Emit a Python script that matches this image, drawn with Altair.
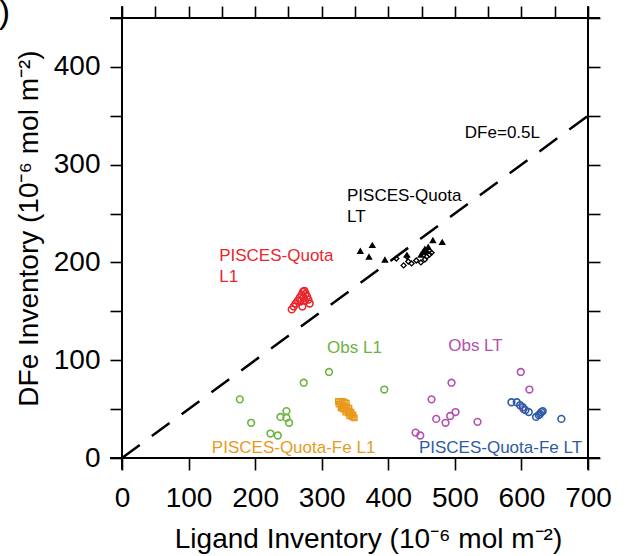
import altair as alt
import pandas as pd

FONT = "Liberation Sans"

x_ticks = list(range(0, 701, 50))
y_ticks = list(range(0, 451, 50))

# PISCES-Quota L1 (red circles)
quota_l1_lig = [255, 258, 261, 264, 267, 270, 272, 274, 276, 278, 280, 282, 271, 268, 275, 273]
quota_l1_dfe = [152, 155, 158, 161, 164, 167, 170, 171, 168, 165, 162, 158, 155, 160, 161, 164]

# Obs L1 (green circles)
obs_l1_lig = [311, 273, 394, 177, 247, 238, 247, 251, 194, 223, 234, 332]
obs_l1_dfe = [88, 77, 70, 60, 48, 42, 41, 36, 36, 25, 23, 51]

# PISCES-Quota-Fe L1 (orange squares)
fe_l1_lig = [325, 328, 331, 334, 337, 326, 330, 334, 338, 341, 329, 333, 337, 341, 344, 336, 340, 344, 347, 342, 346, 349]
fe_l1_dfe = [58, 58, 58, 57, 56, 55, 54, 53, 52, 51, 51, 50, 49, 48, 47, 47, 46, 45, 44, 43, 42, 41]

# Obs LT (purple circles)
obs_lt_lig = [599, 495, 612, 465, 501, 493, 472, 486, 534, 441, 448, 603]
obs_lt_dfe = [88, 77, 70, 60, 47, 43, 40, 36, 37, 26, 23, 50]

# PISCES-Quota-Fe LT (blue circles)
fe_lt_lig = [585, 593, 598, 602, 606, 611, 622, 626, 628, 630, 632, 660]
fe_lt_dfe = [57, 57, 54, 52, 49, 47, 42, 44, 45, 47, 48, 40]

# PISCES-Quota LT (black triangles and diamonds)
quota_lt_tri_lig = [358, 371, 376, 395, 428, 449, 452, 455, 458, 460, 467, 481]
quota_lt_tri_dfe = [212, 206, 218, 203, 208, 208, 211, 214, 212, 216, 223, 221]
quota_lt_dia_lig = [412, 423, 428, 430, 435, 442, 449, 455, 458, 462, 465]
quota_lt_dia_dfe = [204, 197, 206, 201, 199, 202, 200, 203, 206, 208, 210]

# DFe = 0.5 L reference line
ref_lig = [0, 700]
ref_dfe = [0, 350]

# annotations
label_text = ["PISCES-Quota\nLT", "PISCES-Quota\nL1", "Obs L1", "Obs LT",
              "PISCES-Quota-Fe L1", "PISCES-Quota-Fe LT", "DFe=0.5L"]
label_lig = [338, 146, 308, 490, 135, 446, 515]
label_dfe = [263, 201, 107, 109, 5, 5, 327]
label_color = ["#000000", "#e8262b", "#6cb33f", "#b44fae", "#e99a1d", "#2e5ba6", "#000000"]

xs = alt.Scale(domain=[0, 700], nice=False, zero=False)
ys = alt.Scale(domain=[0, 450], nice=False, zero=False)

lab_expr = "datum.value % 100 == 0 ? datum.label : ''"

x_axis = alt.Axis(
    title="Ligand Inventory (10⁻⁶ mol m⁻²)", values=x_ticks, labelExpr=lab_expr,
    tickSize=12, tickWidth=1.6, tickColor="black", domain=False, grid=False,
    labelFont=FONT, labelFontSize=28, labelColor="black", labelPadding=14,
    labelFlush=False, labelOverlap=False,
    titleFont=FONT, titleFontSize=28, titleFontWeight="normal", titleColor="black",
    titleX=246, titleY=89, titleBaseline="alphabetic", titleAlign="center",
)
y_axis = alt.Axis(
    title="DFe Inventory (10⁻⁶ mol m⁻²)", values=y_ticks, labelExpr=lab_expr,
    tickSize=12, tickWidth=1.6, tickColor="black", domain=False, grid=False,
    labelFont=FONT, labelFontSize=28, labelColor="black", labelPadding=10,
    labelFlush=False, labelOverlap=False,
    titleFont=FONT, titleFontSize=28, titleFontWeight="normal", titleColor="black",
    titleX=-85, titleY=210, titleBaseline="alphabetic", titleAlign="center",
)
top_axis = alt.Axis(orient="top", values=x_ticks, labels=False, tickSize=12, tickWidth=1.6,
                    tickColor="black", domain=False, grid=False, title="")
right_axis = alt.Axis(orient="right", values=y_ticks, labels=False, tickSize=12, tickWidth=1.6,
                      tickColor="black", domain=False, grid=False, title="")


def df(lig, dfe):
    return pd.DataFrame({"lig": lig, "dfe": dfe})


def pts(lig, dfe, **mark):
    return alt.Chart(df(lig, dfe)).mark_point(**mark).encode(
        x=alt.X("lig:Q", scale=xs), y=alt.Y("dfe:Q", scale=ys)
    )


ref = alt.Chart(df(ref_lig, ref_dfe)).mark_line(
    color="black", strokeWidth=2.5, strokeDash=[22, 15]
).encode(
    x=alt.X("lig:Q", scale=xs, axis=x_axis),
    y=alt.Y("dfe:Q", scale=ys, axis=y_axis),
)

circle = dict(shape="circle", filled=False, size=45, strokeWidth=1.6, opacity=1)
layers = [
    ref,
    pts(quota_l1_lig, quota_l1_dfe, color="#e8262b", **circle),
    pts(obs_l1_lig, obs_l1_dfe, color="#6cb33f", **circle),
    pts(fe_l1_lig, fe_l1_dfe, shape="square", filled=False, size=28, strokeWidth=1.5,
        color="#e99a1d", opacity=1),
    pts(obs_lt_lig, obs_lt_dfe, color="#b44fae", **circle),
    pts(fe_lt_lig, fe_lt_dfe, color="#2e5ba6", **circle),
    pts(quota_lt_tri_lig, quota_lt_tri_dfe, shape="triangle-up", filled=True, size=55,
        color="black", opacity=1),
    pts(quota_lt_dia_lig, quota_lt_dia_dfe, shape="diamond", filled=False, size=25,
        strokeWidth=1.3, color="black", opacity=1),
]

labels = pd.DataFrame({"lig": label_lig, "dfe": label_dfe, "text": label_text, "color": label_color})
text = alt.Chart(labels).mark_text(
    align="left", baseline="alphabetic", font=FONT, fontSize=17, lineBreak="\n", lineHeight=21
).encode(
    x=alt.X("lig:Q", scale=xs), y=alt.Y("dfe:Q", scale=ys),
    text="text:N", color=alt.Color("color:N", scale=None),
)

panel = alt.Chart(pd.DataFrame({"lig": [-168], "dfe": [455], "text": [")"]})).mark_text(
    align="right", baseline="middle", font=FONT, fontSize=34, color="black"
).encode(x=alt.X("lig:Q", scale=xs), y=alt.Y("dfe:Q", scale=ys), text="text:N")

main = alt.layer(*layers, text, panel)

frame_df = pd.DataFrame({
    "x": [-18, -18, 0, 700], "x2": [718, 718, 0, 700],
    "y": [0, 450, -12, -12], "y2": [0, 450, 462, 462],
})
frame = alt.Chart(frame_df).mark_rule(color="black", strokeWidth=2).encode(
    x=alt.X("x:Q", scale=xs, axis=top_axis), x2="x2:Q",
    y=alt.Y("y:Q", scale=ys, axis=right_axis), y2="y2:Q",
)

chart = alt.layer(main, frame).resolve_axis(x="independent", y="independent").properties(
    width=466, height=440,
    autosize=alt.AutoSizeParams(type="none"),
    padding={"left": 122, "top": 18, "right": 39, "bottom": 98},
).configure_view(stroke=None)

chart.save("out.html", embed_options={"renderer": "svg", "actions": False})
